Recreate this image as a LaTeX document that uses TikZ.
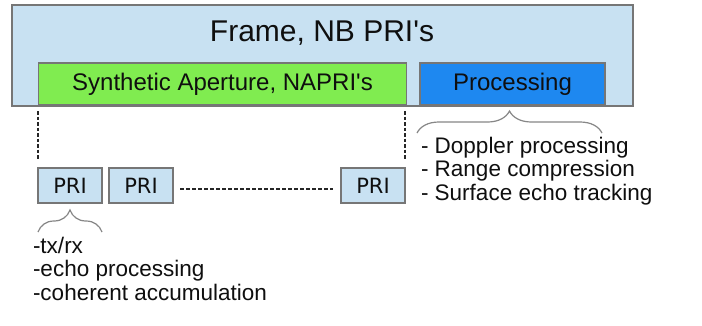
\documentclass[tikz,border=0pt]{standalone}
\usepackage{fontspec}
\setmainfont{Liberation Sans}
\newfontfamily\prifont{DejaVu Sans}
\usetikzlibrary{decorations.pathreplacing}
\definecolor{framefill}{RGB}{200,225,242}
\definecolor{boxedge}{RGB}{118,118,118}
\definecolor{sagreen}{RGB}{128,236,80}
\definecolor{procblue}{RGB}{30,136,240}
\definecolor{bracegray}{RGB}{135,135,135}
\definecolor{txt}{RGB}{15,15,15}
\begin{document}
\begin{tikzpicture}[x=1pt,y=-1pt,
  box/.style={draw=boxedge,line width=1.4pt,inner sep=0pt,outer sep=0pt,text=txt},
  pribox/.style={box,fill=framefill,minimum width=64pt,minimum height=35pt,font=\prifont\fontsize{21}{23}\selectfont},
  dotline/.style={draw=black!85,line width=2.2pt,dash pattern=on 3.5pt off 2pt},
  bracestyle/.style={draw=bracegray,line width=1.2pt,decorate,decoration={brace}},
  listtext/.style={inner sep=0pt,outer sep=0pt,align=left,text=txt,font=\fontsize{22.5}{23.5}\selectfont}
]
\useasboundingbox (0,0) rectangle (702,325);
\fill[white] (0,0) rectangle (702,325);
% frame
\node[box,fill=framefill,minimum width=621pt,minimum height=101pt] (frame) at (322.5,55.5) {};
\node[text=txt,font=\fontsize{30}{32}\selectfont] (title) at (322,33) {Frame, NB PRI\textquotesingle s};
\node[box,fill=sagreen,minimum width=368pt,minimum height=42pt,font=\fontsize{24}{26}\selectfont] (sa) at (222.5,84) {Synthetic Aperture, NAPRI\textquotesingle s};
\node[box,fill=procblue,minimum width=185pt,minimum height=42pt,font=\fontsize{24}{26}\selectfont] (proc) at (512.5,84) {Processing};
% PRI boxes
\node[pribox] (pri1) at (70,185.5) {PRI};
\node[pribox] (pri2) at (141,185.5) {PRI};
\node[pribox] (pri3) at (373,185.5) {PRI};
% dotted connectors
\coordinate (t1) at (pri1.north west |- sa.south);
\coordinate (t3) at (pri3.north east |- sa.south);
\draw[dotline] ([yshift=-6]t1) -- ([yshift=8]pri1.north west);
\draw[dotline] ([yshift=-6]t3) -- ([yshift=8]pri3.north east);
\coordinate (dl) at ([xshift=7,yshift=-3.5]pri2.east);
\coordinate (dr) at ([xshift=-8,yshift=-3.5]pri3.west);
\draw[draw=black!85,line width=2.4pt,dash pattern=on 4pt off 2pt] (dl) -- (dr);
% braces
\coordinate (b1a) at (38,232);
\coordinate (b1b) at (102,232);
\draw[bracestyle,decoration={amplitude=22pt}] (b1a) -- (b1b);
\coordinate (b2a) at (417,133);
\coordinate (b2b) at (602,133);
\draw[bracestyle,decoration={amplitude=22pt}] (b2a) -- (b2b);
% texts
\node[listtext,anchor=north west] (lefttext) at (33,237) {-tx/rx\\-echo processing\\-coherent accumulation};
\node[listtext,anchor=north west] (righttext) at (421,137) {- Doppler processing\\- Range compression\\- Surface echo tracking};
\end{tikzpicture}
\end{document}
